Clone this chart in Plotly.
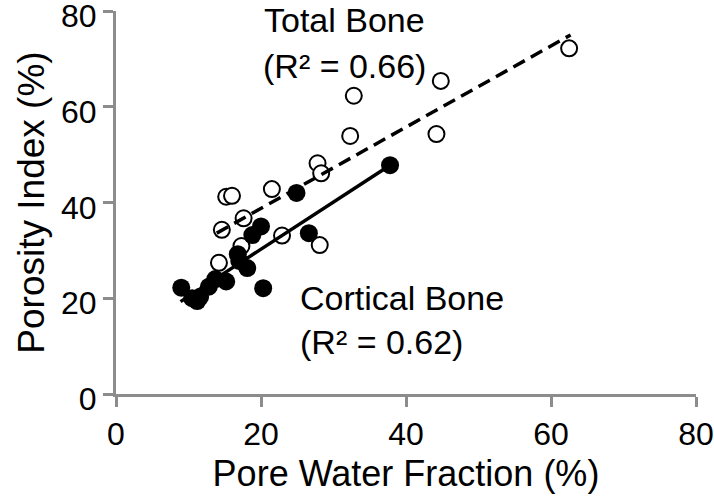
import plotly.graph_objects as go

# Total bone (open circles)
total_x = [62.5, 44.8, 32.8, 32.3, 44.2, 27.8, 28.3, 21.5, 22.9, 28.1, 17.6, 15.2, 16.0, 14.6, 17.3, 14.2]
total_y = [72.2, 65.4, 62.3, 53.9, 54.3, 48.2, 46.1, 42.8, 33.1, 31.1, 36.7, 41.2, 41.4, 34.3, 30.9, 27.4]

# Cortical bone (filled circles)
cortical_x = [37.8, 24.9, 20.0, 18.8, 26.6, 16.8, 17.0, 18.1, 20.3, 15.2, 13.7, 12.8, 11.6, 10.5, 9.0, 11.2]
cortical_y = [47.8, 42.0, 35.0, 33.2, 33.6, 29.2, 27.8, 26.3, 22.1, 23.5, 24.0, 22.4, 20.3, 20.0, 22.2, 19.4]

# Linear fit lines (endpoints)
total_fit_x = [13.9, 62.7]
total_fit_y = [33.6, 75.0]
cortical_fit_x = [8.9, 37.8]
cortical_fit_y = [19.3, 47.8]

tick_vals = [0, 20, 40, 60, 80]
tick_text = ["0", "20", "40", "60", "80"]

FONT = "Liberation Sans, Arial, sans-serif"
AXIS_COLOR = "#8c8c8c"

fig = go.Figure()
fig.add_trace(go.Scatter(x=total_x, y=total_y, mode="markers",
                         marker=dict(size=16, color="white", line=dict(color="black", width=2)),
                         name="Total Bone", cliponaxis=False))
fig.add_trace(go.Scatter(x=cortical_x, y=cortical_y, mode="markers",
                         marker=dict(size=18, color="black", line=dict(color="black", width=0)),
                         name="Cortical Bone", cliponaxis=False))
fig.add_trace(go.Scatter(x=total_fit_x, y=total_fit_y, mode="lines",
                         line=dict(color="black", width=3.5, dash="13px,7px"),
                         name="Total fit", cliponaxis=False))
fig.add_trace(go.Scatter(x=cortical_fit_x, y=cortical_fit_y, mode="lines",
                         line=dict(color="black", width=3.5),
                         name="Cortical fit", cliponaxis=False))

annot_font = dict(family=FONT, size=34, color="black")
fig.add_annotation(x=20.2, y=78.1, text="Total Bone", showarrow=False,
                   xanchor="left", yanchor="middle", font=annot_font)
fig.add_annotation(x=20.0, y=68.5, text="(R² = 0.66)", showarrow=False,
                   xanchor="left", yanchor="middle", font=annot_font)
fig.add_annotation(x=25.1, y=20.0, text="Cortical Bone", showarrow=False,
                   xanchor="left", yanchor="middle", font=annot_font)
fig.add_annotation(x=25.1, y=10.9, text="(R² = 0.62)", showarrow=False,
                   xanchor="left", yanchor="middle", font=annot_font)

axis_common = dict(range=[0, 80], tickvals=tick_vals, ticktext=tick_text,
                   showgrid=False, zeroline=False, showline=True,
                   linecolor=AXIS_COLOR, linewidth=3, ticks="outside",
                   tickcolor=AXIS_COLOR, tickwidth=3, ticklen=10,
                   automargin=False, ticklabeloverflow="allow",
                   tickfont=dict(family=FONT, size=32, color="black"))

fig.update_layout(
    width=714, height=497,
    margin=dict(l=116, r=18, t=11, b=103),
    paper_bgcolor="white", plot_bgcolor="white",
    showlegend=False,
    xaxis=dict(**axis_common,
               title=dict(text="Pore Water Fraction (%)", standoff=10,
                          font=dict(family=FONT, size=36, color="black"))),
    yaxis=dict(**axis_common, ticklabelshift=5,
               title=dict(text="Porosity Index (%)", standoff=6,
                          font=dict(family=FONT, size=37, color="black"))),
)

fig.write_html("out.html", config={"displayModeBar": False},
               post_script="document.body.style.margin='0';document.body.style.padding='0';")
